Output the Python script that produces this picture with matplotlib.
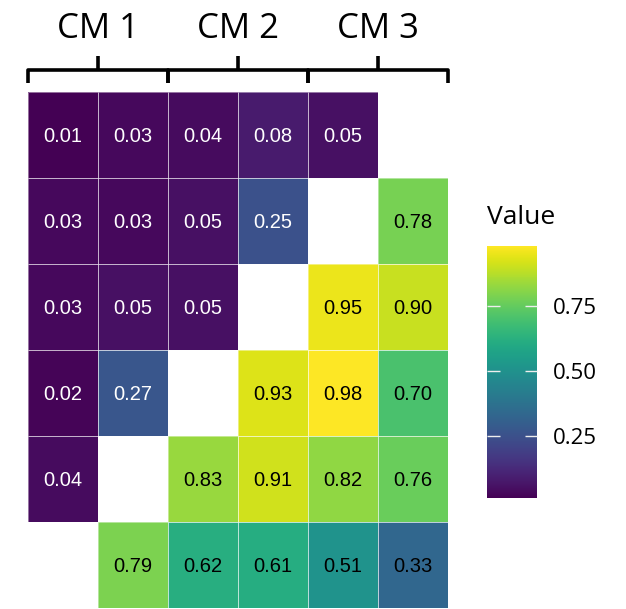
import matplotlib
matplotlib.use("Agg")
import matplotlib.pyplot as plt
from matplotlib.patches import Rectangle
import numpy as np

# heatmap values, rows top to bottom, NaN = empty cell
row_0 = [0.01, 0.03, 0.04, 0.08, 0.05, np.nan]
row_1 = [0.03, 0.03, 0.05, 0.25, np.nan, 0.78]
row_2 = [0.03, 0.05, 0.05, np.nan, 0.95, 0.90]
row_3 = [0.02, 0.27, np.nan, 0.93, 0.98, 0.70]
row_4 = [0.04, np.nan, 0.83, 0.91, 0.82, 0.76]
row_5 = [np.nan, 0.79, 0.62, 0.61, 0.51, 0.33]

groups = ["CM 1", "CM 2", "CM 3"]
cbar_ticks = [0.25, 0.50, 0.75]

data = np.array([row_0, row_1, row_2, row_3, row_4, row_5])
masked = np.ma.masked_invalid(data)
n_rows, n_cols = data.shape

fig = plt.figure(figsize=(6.26, 6.09), dpi=100)
ax = fig.add_axes([28 / 626, 1 / 609, 420 / 626, 516 / 609])

mesh = ax.pcolormesh(masked, cmap="viridis", vmin=np.nanmin(data), vmax=np.nanmax(data))
ax.set_xlim(0, n_cols)
ax.set_ylim(n_rows, 0)
ax.axis("off")

for i in range(n_rows):
    for j in range(n_cols):
        v = data[i, j]
        if np.isnan(v):
            continue
        ax.add_patch(Rectangle((j, i), 1, 1, fill=False, edgecolor="white",
                               alpha=0.45, lw=0.7))
        col = "white" if v < 0.3 else "black"
        ax.text(j + 0.5, i + 0.5, f"{v:.2f}", ha="center", va="center_baseline",
                fontsize=14.5, color=col, family="Liberation Sans")

# brackets over column pairs
lw = 2.6
for g, name in enumerate(groups):
    x0 = 2 * g
    x1 = 2 * g + 2
    xm = 2 * g + 1
    ax.plot([x0, x0, x1, x1], [-0.11, -0.256, -0.256, -0.11], color="black",
            lw=lw, clip_on=False, solid_capstyle="butt", solid_joinstyle="round")
    ax.plot([xm, xm], [-0.256, -0.42], color="black", lw=lw, clip_on=False,
            solid_capstyle="butt")
    ax.text(xm, -0.628, name, ha="center", va="baseline", fontsize=25,
            family="Open Sans", clip_on=False)

# colorbar
cax = fig.add_axes([487 / 626, (609 - 498) / 609, 50 / 626, 252 / 609])
cb = fig.colorbar(mesh, cax=cax)
cb.outline.set_visible(False)
cb.set_ticks(cbar_ticks)
cb.set_ticklabels([f"{t:.2f}" for t in cbar_ticks])
cax.tick_params(left=True, right=True, labelleft=False, labelright=True,
                direction="in", length=9, width=1, color="#eeeeee", pad=11.5)
for lab in cax.get_yticklabels():
    lab.set_fontsize(16)
    lab.set_family("Open Sans")
    lab.set_va("center_baseline")
fig.text(487 / 626, (609 - 218) / 609, "Value", ha="left", va="center",
         fontsize=19, family="Open Sans")

fig.savefig("out.png", dpi=100)
